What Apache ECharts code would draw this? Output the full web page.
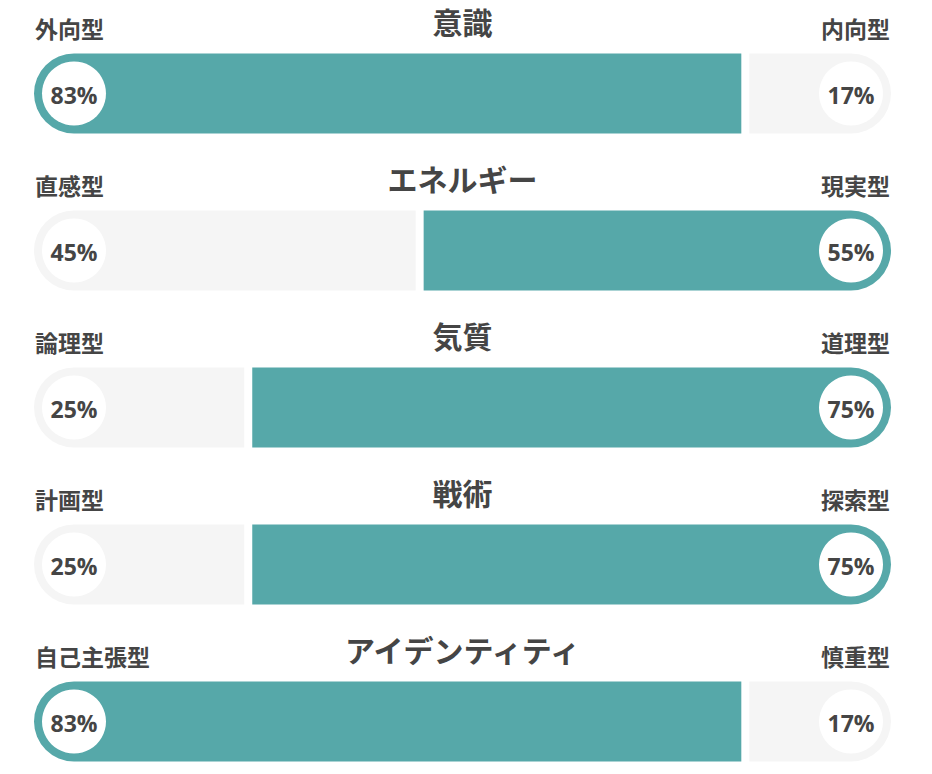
<!DOCTYPE html>
<html>
<head>
<meta charset="utf-8">
<script src="https://cdn.jsdelivr.net/npm/echarts@6/dist/echarts.min.js"></script>
<style>
  html, body { margin: 0; padding: 0; background: #ffffff; }
  #chart { width: 932px; height: 774px; }
</style>
</head>
<body>
<div id="chart"></div>
<script>
// ---- data ----
const titles = ['意識', 'エネルギー', '気質', '戦術', 'アイデンティティ'];
const leftLabels = ['外向型', '直感型', '論理型', '計画型', '自己主張型'];
const rightLabels = ['内向型', '現実型', '道理型', '探索型', '慎重型'];
const leftValues = [83, 45, 25, 25, 83];
const rightValues = [17, 55, 75, 75, 17];

// ---- style ----
const TEAL = '#56a8a9';
const GREY = '#f5f5f5';
const TEXT = '#454545';
const BAR_H = 80;
const GAP = 4;
const CIRCLE_R = 32;
const CJK = '"Noto Sans CJK JP", "Noto Sans", sans-serif';
const NUM = '"Open Sans", "Noto Sans", sans-serif';

const rows = titles.map((t, i) => [i, leftValues[i], rightValues[i]]);

const chart = echarts.init(document.getElementById('chart'), null, { renderer: 'svg' });

function renderItem(params, api) {
  const i = api.value(0);
  const L = api.value(1);
  const R = api.value(2);
  const p0 = api.coord([0, i]);
  const ps = api.coord([L, i]);
  const p1 = api.coord([100, i]);
  const cy = p0[1];
  const half = BAR_H / 2;
  const leftColor = L >= R ? TEAL : GREY;
  const rightColor = L >= R ? GREY : TEAL;
  const children = [
    {
      type: 'rect',
      shape: { x: p0[0], y: cy - half, width: ps[0] - GAP - p0[0], height: BAR_H, r: [half, 0, 0, half] },
      style: { fill: leftColor }
    },
    {
      type: 'rect',
      shape: { x: ps[0] + GAP, y: cy - half, width: p1[0] - ps[0] - GAP, height: BAR_H, r: [0, half, half, 0] },
      style: { fill: rightColor }
    },
    {
      type: 'circle',
      shape: { cx: p0[0] + half, cy: cy, r: CIRCLE_R },
      style: { fill: '#ffffff' }
    },
    {
      type: 'circle',
      shape: { cx: p1[0] - half, cy: cy, r: CIRCLE_R },
      style: { fill: '#ffffff' }
    },
    {
      type: 'text',
      style: {
        x: p0[0] + half, y: cy + 1, text: L + '%', fill: TEXT,
        font: 'bold 23px ' + NUM, textAlign: 'center', textVerticalAlign: 'middle'
      }
    },
    {
      type: 'text',
      style: {
        x: p1[0] - half, y: cy + 1, text: R + '%', fill: TEXT,
        font: 'bold 23px ' + NUM, textAlign: 'center', textVerticalAlign: 'middle'
      }
    },
    {
      type: 'text',
      style: {
        x: p0[0] + 1, y: cy - 66, text: leftLabels[i], fill: TEXT,
        font: 'bold 23px ' + CJK, lineHeight: 23, textAlign: 'left', textVerticalAlign: 'middle'
      }
    },
    {
      type: 'text',
      style: {
        x: p1[0] - 1, y: cy - 66, text: rightLabels[i], fill: TEXT,
        font: 'bold 23px ' + CJK, lineHeight: 23, textAlign: 'right', textVerticalAlign: 'middle'
      }
    },
    {
      type: 'text',
      style: {
        x: (p0[0] + p1[0]) / 2, y: cy - 73, text: titles[i], fill: TEXT,
        font: 'bold 30px ' + CJK, lineHeight: 30, textAlign: 'center', textVerticalAlign: 'middle'
      }
    }
  ];
  return { type: 'group', children: children };
}

chart.setOption({
  animation: false,
  backgroundColor: '#ffffff',
  grid: { left: 34, right: 41, top: 93.5, bottom: 52.5 },
  xAxis: { type: 'value', min: 0, max: 100, show: false },
  yAxis: { type: 'value', min: 0, max: 4, inverse: true, show: false },
  series: [{
    type: 'custom',
    renderItem: renderItem,
    data: rows,
    encode: { x: [1, 2], y: 0 },
    clip: false
  }]
});
</script>
</body>
</html>
